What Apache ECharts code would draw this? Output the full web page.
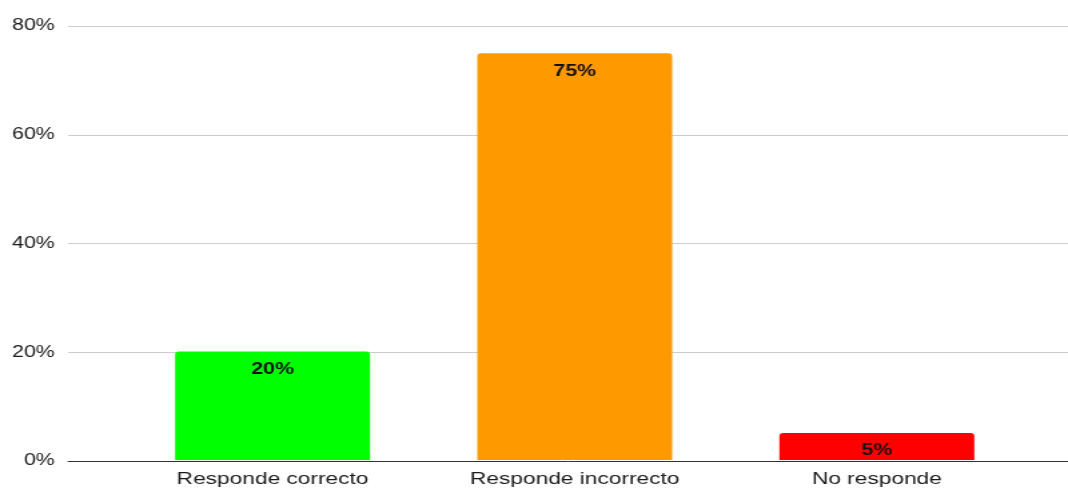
<!DOCTYPE html>
<html>
<head>
<meta charset="utf-8">
<title>Respuestas</title>
<script src="https://cdn.jsdelivr.net/npm/echarts@6/dist/echarts.min.js"></script>
<style>
  html, body { margin: 0; padding: 0; background: #fff; overflow: hidden; }
  /* chart is laid out at 800px and widened to the 1068px page */
  #chart { width: 800px; height: 488px; transform: scaleX(1.335); transform-origin: 0 0; }
</style>
</head>
<body>
<div id="chart"></div>
<script>
const categories = ['Responde correcto', 'Responde incorrecto', 'No responde'];
const values = [20, 75, 5];
const barColors = ['#00ff00', '#ff9900', '#ff0000'];
const yTicks = [0, 20, 40, 60, 80];

const FONT = '"Liberation Sans", Arial, sans-serif';
const chart = echarts.init(document.getElementById('chart'));

const yMax = yTicks[yTicks.length - 1];
const yStep = yTicks[1] - yTicks[0];

chart.setOption({
  animation: false,
  textStyle: { fontFamily: FONT },
  grid: [
    // frame: percent labels, gridlines and baseline
    { left: 51, right: 0, top: 26, bottom: 27 },
    // bars
    { left: 91, right: 30, top: 26, bottom: 27 }
  ],
  xAxis: [
    {
      gridIndex: 0, type: 'category', data: [''],
      axisLine: { show: true, lineStyle: { color: '#333', width: 1 } },
      axisTick: { show: false }, axisLabel: { show: false }
    },
    {
      gridIndex: 1, type: 'category', data: categories,
      axisLine: { show: false }, axisTick: { show: false },
      axisLabel: { color: '#1a1a1a', fontSize: 17, margin: 11, fontFamily: FONT }
    }
  ],
  yAxis: [
    {
      gridIndex: 0, type: 'value', min: 0, max: yMax, interval: yStep,
      axisLine: { show: false }, axisTick: { show: false },
      axisLabel: { color: '#1a1a1a', fontSize: 16, margin: 10, formatter: '{value}%', fontFamily: FONT },
      splitLine: { lineStyle: { color: '#cccccc', width: 1 } }
    },
    {
      gridIndex: 1, type: 'value', min: 0, max: yMax, interval: yStep,
      show: false, splitLine: { show: false }
    }
  ],
  series: [{
    type: 'bar',
    xAxisIndex: 1, yAxisIndex: 1,
    barWidth: 146,
    data: values.map((v, i) => ({ value: v, itemStyle: { color: barColors[i] } })),
    itemStyle: { borderRadius: [3, 3, 0, 0] },
    label: {
      show: true, position: 'insideTop', distance: 10,
      formatter: '{c}%', color: '#111', fontSize: 16, fontWeight: 'bold', fontFamily: FONT
    }
  }]
});
</script>
</body>
</html>
